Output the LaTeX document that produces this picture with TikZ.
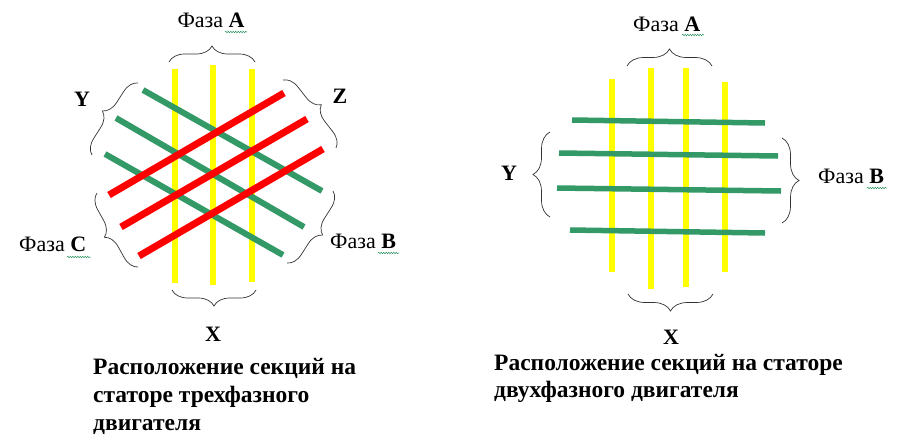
\documentclass[tikz,border=0pt]{standalone}
\usepackage{fontspec}
\setmainfont{Liberation Serif}
\usetikzlibrary{decorations.pathreplacing,decorations.pathmorphing}
\definecolor{wgreen}{RGB}{51,153,102}
\definecolor{wred}{RGB}{255,0,0}
\definecolor{wyel}{RGB}{255,255,0}
\begin{document}
\begin{tikzpicture}[x=1pt,y=-1pt,
  yelbar/.style={draw=wyel, line width=6pt},
  grnbar/.style={draw=wgreen, line width=6pt},
  grnbarB/.style={draw=wgreen, line width=5.5pt},
  redbar/.style={draw=wred, line width=7pt},
  brc/.style={decorate, decoration={brace, amplitude=#1}, draw=black!80, line width=0.7pt},
  brc/.default=15pt,
  lbl/.style={inner sep=0pt, font=\fontsize{22}{26}\selectfont},
  boldlbl/.style={inner sep=0pt, anchor=base, font=\fontsize{22}{26}\selectfont\bfseries},
  captxt/.style={inner sep=0pt, anchor=base west, font=\fontsize{23.5}{28}\selectfont\bfseries},
  wavy/.style={draw=wgreen, line width=0.5pt, decorate, decoration={snake, amplitude=0.8pt, segment length=2.5pt}}
]
\useasboundingbox (0,0) rectangle (899,440);
\fill[white] (0,0) rectangle (899,440);

% ---------- left diagram ----------
\draw[yelbar] (175,69) -- (175,283);
\draw[yelbar] (213,65) -- (213,285);
\draw[yelbar] (252,69) -- (252,282);

\draw[grnbar] (143,90) -- (322,191);
\draw[grnbar] (116,118) -- (304,227);
\draw[grnbar] (105,154) -- (283,255);

\draw[redbar] (109,195) -- (284,93);
\draw[redbar] (121,227) -- (307,119);
\draw[redbar] (139,256) -- (323,149);

\draw[brc=16pt] (169,62) -- (255,62);
\draw[brc] (92,155) -- (138,83);
\draw[brc] (283,80) -- (336,148);
\draw[brc] (333,191) -- (287,263);
\draw[brc] (138,267) -- (97,193);
\draw[brc=16pt] (256,290) -- (172,290);

\node[lbl, anchor=base] (lA) at (211,27) {Фаза \textbf{A}};
\draw[wavy] (225,32) -- (247,32);
\node[boldlbl] (lY) at (82,106) {Y};
\node[boldlbl] (lZ) at (340,103) {Z};
\node[lbl, anchor=base west] (lC) at (19,251) {Фаза \textbf{C}};
\draw[wavy] (67,257) -- (91,257);
\node[lbl, anchor=base west] (lB) at (330,248) {Фаза \textbf{B}};
\draw[wavy] (378,253) -- (399,253);
\node[boldlbl] (lX) at (213,341) {X};

\node[captxt] (c1a) at (93,374) {Расположение секций на};
\node[captxt] (c1b) at (93,402) {статоре трехфазного};
\node[captxt] (c1c) at (93,430) {двигателя};

% ---------- right diagram ----------
\draw[yelbar] (612,79) -- (612,272);
\draw[yelbar] (651,68) -- (651,289);
\draw[yelbar] (686,68) -- (686,287);
\draw[yelbar] (725,82) -- (725,272);

\draw[grnbarB] (572,120) -- (765,123);
\draw[grnbarB] (559,153) -- (778,156);
\draw[grnbarB] (557,188) -- (781,191);
\draw[grnbarB] (570,230) -- (765,233);

\draw[brc=17pt] (627,66) -- (712,66);
\draw[brc=17pt] (550,217) -- (550,132);
\draw[brc=17pt] (782,138) -- (782,223);
\draw[brc=17pt] (713,294) -- (628,294);

\node[lbl, anchor=base west] (rA) at (633,31) {Фаза \textbf{A}};
\draw[wavy] (682,35) -- (704,35);
\node[boldlbl] (rY) at (509,180) {Y};
\node[lbl, anchor=base west] (rB) at (818,183) {Фаза \textbf{B}};
\draw[wavy] (867,188) -- (887,188);
\node[boldlbl] (rX) at (671,344) {X};

\node[captxt] (c2a) at (494,370) {Расположение секций на статоре};
\node[captxt] (c2b) at (494,397) {двухфазного двигателя};
\end{tikzpicture}
\end{document}
